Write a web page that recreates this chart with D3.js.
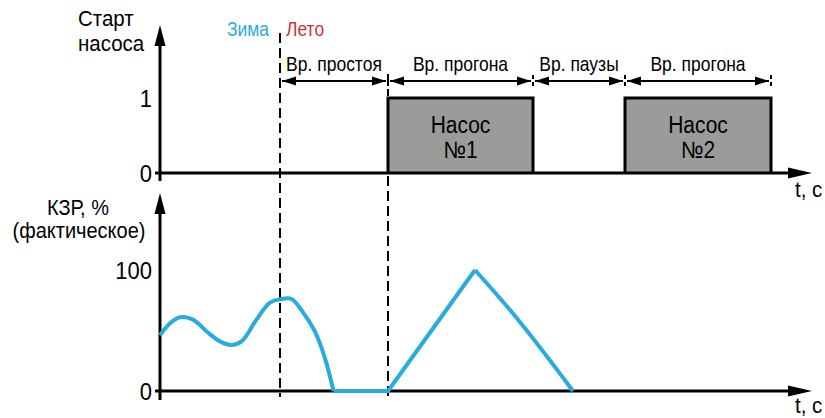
<!DOCTYPE html>
<html>
<head>
<meta charset="utf-8">
<script src="https://cdn.jsdelivr.net/npm/d3@7"></script>
<style>
  body { margin: 0; background: #fff; }
  svg { display: block; font-family: "Liberation Sans", Arial, sans-serif; }
  svg text { transform-box: fill-box; transform-origin: center; transform: scaleY(1.12); }
</style>
</head>
<body>
<div id="chart"></div>
<script>
// time axis (arbitrary units), events along it
var tMax = 130.4;
var tSeason = 24;          // Зима | Лето
var phases = [             // dimension arrows above the pump signal
  { label: "Вр. простоя", start: 24,   end: 45.6 },
  { label: "Вр. прогона", start: 45.6, end: 74.6 },
  { label: "Вр. паузы",   start: 74.6, end: 93 },
  { label: "Вр. прогона", start: 93,   end: 122.2 }
];
// pump start signal: runs at level 1
var pumpRuns = [
  { name: "Насос", num: "№1", start: 45.6, end: 74.6 },
  { name: "Насос", num: "№2", start: 93,   end: 122.2 }
];
var startTicks = [0, 1];
var kzrTicks = [0, 100];

// КЗР, % actual value
var kzrSmoothT = [0, 2, 4, 6.6, 9.4, 12, 14.3, 16.3, 19.3, 22, 24.3, 26.3, 28.6, 31, 33, 34.7];
var kzrSmoothV = [46, 56, 61, 59, 49, 41, 38, 41, 59, 73, 76, 76, 65, 49, 27, 0];
var kzrRiseT = [34.7, 45.6, 63];
var kzrRiseV = [0, 0, 100];
var kzrFallT = [63, 70.6, 82.6];
var kzrFallV = [100, 64, 0];

var width = 825, height = 418;
var svg = d3.select("#chart").append("svg")
  .attr("width", width).attr("height", height);

var x = d3.scaleLinear().domain([0, tMax]).range([160, 812]);
var yTop = d3.scaleLinear().domain([0, 1]).range([173, 98]);
var yBot = d3.scaleLinear().domain([0, 100]).range([391, 270]);

var blue = "#29abe2";

// pump runs (grey boxes)
var runs = svg.append("g").selectAll("g").data(pumpRuns).enter().append("g");
runs.append("rect")
  .attr("x", function (d) { return x(d.start); })
  .attr("y", yTop(1))
  .attr("width", function (d) { return x(d.end) - x(d.start); })
  .attr("height", yTop(0) - yTop(1))
  .attr("fill", "#9b9b9b");
runs.append("path")
  .attr("d", function (d) {
    return "M" + x(d.start) + "," + yTop(0) + "V" + yTop(1) + "H" + x(d.end) + "V" + yTop(0);
  })
  .attr("fill", "none").attr("stroke", "#000").attr("stroke-width", 3);
runs.append("text")
  .attr("x", function (d) { return (x(d.start) + x(d.end)) / 2; })
  .attr("y", 132)
  .attr("text-anchor", "middle").attr("font-size", 21)
  .text(function (d) { return d.name; });
runs.append("text")
  .attr("x", function (d) { return (x(d.start) + x(d.end)) / 2; })
  .attr("y", 157)
  .attr("text-anchor", "middle").attr("font-size", 21)
  .text(function (d) { return d.num; });

// dashed guides
function dashed(x0, y0, y1) {
  svg.append("line")
    .attr("x1", x0).attr("x2", x0).attr("y1", y0).attr("y2", y1)
    .attr("stroke", "#000").attr("stroke-width", 2)
    .attr("stroke-dasharray", "10,5");
}
dashed(x(tSeason), 33, 397);
dashed(x(phases[0].end), 74, 96);
dashed(x(phases[0].end), 176, 397);

svg.append("text").attr("x", x(tSeason) - 11).attr("y", 35)
  .attr("text-anchor", "end").attr("font-size", 17.5).attr("fill", blue).text("Зима");
svg.append("text").attr("x", x(tSeason) + 6).attr("y", 35)
  .attr("font-size", 17.5).attr("fill", "#d4303a").text("Лето");

// dimension arrows
var arrowY = 81;
var ph = svg.append("g").selectAll("g").data(phases).enter().append("g");
ph.append("line")
  .attr("x1", function (d) { return x(d.start) + 2; })
  .attr("x2", function (d) { return x(d.end) - 2; })
  .attr("y1", arrowY).attr("y2", arrowY)
  .attr("stroke", "#000").attr("stroke-width", 2);
ph.append("path")
  .attr("d", function (d) {
    var a = x(d.start) + 2, b = x(d.end) - 2;
    return "M" + a + "," + arrowY + "l14,-4.5v9z" +
           "M" + b + "," + arrowY + "l-14,-4.5v9z";
  })
  .attr("fill", "#000");
ph.append("line")
  .attr("x1", function (d) { return x(d.end); })
  .attr("x2", function (d) { return x(d.end); })
  .attr("y1", 75).attr("y2", 87)
  .attr("stroke", "#000").attr("stroke-width", 2)
  .attr("stroke-dasharray", "4,3");
ph.append("text")
  .attr("x", function (d) { return (x(d.start) + x(d.end)) / 2; })
  .attr("y", 70)
  .attr("text-anchor", "middle").attr("font-size", 17.5)
  .text(function (d) { return d.label; });

// axes with arrowheads
function axes(y, yTip, yBottom, labelY) {
  var g = svg.append("g");
  g.append("line").attr("x1", 160).attr("x2", 160)
    .attr("y1", yTip + 10).attr("y2", yBottom)
    .attr("stroke", "#000").attr("stroke-width", 3);
  g.append("path")
    .attr("d", "M160," + yTip + "l-5.5,21h11z").attr("fill", "#000");
  g.append("line").attr("x1", 155).attr("x2", x(tMax) - 12)
    .attr("y1", y(0)).attr("y2", y(0))
    .attr("stroke", "#000").attr("stroke-width", 3);
  g.append("path")
    .attr("d", "M" + x(tMax) + "," + y(0) + "l-24,-5.5v11z").attr("fill", "#000");
  g.append("text").attr("x", 795).attr("y", labelY)
    .attr("font-size", 20.5).text("t, с");
}
axes(yTop, 25, 181, 196);
axes(yBot, 193, 400, 412);

// tick labels
var ax1 = svg.append("g").attr("transform", "translate(160,0)")
  .call(d3.axisLeft(yTop).tickValues(startTicks).tickFormat(d3.format("d")).tickSize(0).tickPadding(8));
var ax2 = svg.append("g").attr("transform", "translate(160,0)")
  .call(d3.axisLeft(yBot).tickValues(kzrTicks).tickFormat(d3.format("d")).tickSize(0).tickPadding(8));
[ax1, ax2].forEach(function (a) {
  a.select(".domain").remove();
  a.selectAll("text").attr("font-size", 22).attr("font-family", "Liberation Sans, Arial, sans-serif")
    .attr("fill", "#000").attr("dy", "0.36em");
});

// y titles
svg.append("text").attr("x", 78).attr("y", 25).attr("font-size", 20.5).text("Старт");
svg.append("text").attr("x", 78).attr("y", 50).attr("font-size", 20.5).text("насоса");
svg.append("text").attr("x", 78).attr("y", 214).attr("text-anchor", "middle")
  .attr("font-size", 20).text("КЗР, %");
svg.append("text").attr("x", 79).attr("y", 237).attr("text-anchor", "middle")
  .attr("font-size", 20).text("(фактическое)");

// КЗР curve
function kzrPath(ts, vs, curve) {
  var line = d3.line()
    .x(function (d, i) { return x(ts[i]); })
    .y(function (d) { return yBot(d); })
    .curve(curve);
  svg.append("path").attr("d", line(vs))
    .attr("fill", "none").attr("stroke", blue).attr("stroke-width", 4)
    .attr("stroke-linejoin", "round");
}
kzrPath(kzrSmoothT, kzrSmoothV, d3.curveCatmullRom.alpha(0.5));
kzrPath(kzrRiseT, kzrRiseV, d3.curveLinear);
kzrPath(kzrFallT, kzrFallV, d3.curveMonotoneX);
</script>
</body>
</html>
